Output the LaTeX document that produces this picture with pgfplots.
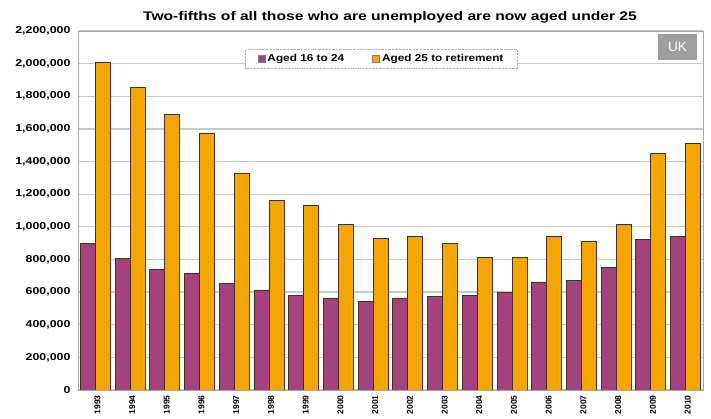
\documentclass[border=0pt]{standalone}
\usepackage{pgfplots}
\pgfplotsset{compat=1.18}
\usepackage{fontspec}
\setmainfont{Liberation Sans}
\definecolor{purp}{HTML}{A3427C}
\definecolor{orng}{HTML}{F5A500}
\definecolor{edge}{HTML}{4A3020}
\definecolor{gridc}{HTML}{C8C8C8}
\newcommand{\sx}[2]{\scalebox{#1}[1]{#2}}
\begin{document}
\begin{tikzpicture}[x=1pt,y=1pt]
\path[use as bounding box] (0,0) rectangle (711,419);
\begin{axis}[
  at={(78pt,29pt)}, anchor=south west,
  scale only axis, width=625pt, height=359pt,
  ybar=0pt, bar width=15pt,
  xmin=-0.5, xmax=17.5,
  ymin=0, ymax=2200000,
  xtick=data,
  xticklabels={1993,1994,1995,1996,1997,1998,1999,2000,2001,2002,2003,2004,2005,2006,2007,2008,2009,2010},
  x tick label style={rotate=90, anchor=east, yshift=-2pt, inner sep=1pt, font=\bfseries\fontsize{8.5}{9}\selectfont},
  major x tick style={draw=none},
  ytick={0,200000,...,2200000},
  scaled y ticks=false,
  /pgf/number format/fixed,
  /pgf/number format/1000 sep={,},
  /pgf/number format/assume math mode=true,
  yticklabel={\sx{1.24}{\pgfmathprintnumber{\tick}}},
  y tick label style={font=\bfseries\fontsize{10}{11}\selectfont, xshift=-4pt},
  major y tick style={draw=none},
  ymajorgrids, grid style={gridc, line width=1.2pt},
  axis line style={draw=gray!70, line width=0.9pt},
  legend columns=2,
  legend style={at={(0.4856,0.922)}, anchor=center, draw=gray!60, densely dotted,
    font=\bfseries\fontsize{10}{11}\selectfont, inner xsep=12pt, inner ysep=3pt,
    /tikz/every even column/.append style={column sep=26pt}},
  legend image code/.code={\draw[#1, solid, draw=gray] (0pt,-3.5pt) rectangle (7pt,3.5pt);},
]
\addplot[fill=purp, draw=edge, line width=0.9pt] coordinates {
(0,895000) (1,805000) (2,740000) (3,715000) (4,650000) (5,613000) (6,582000) (7,564000) (8,545000) (9,560000) (10,574000) (11,580000) (12,600000) (13,662000) (14,674000) (15,748000) (16,920000) (17,938000)};
\addplot[fill=orng, draw=edge, line width=0.9pt] coordinates {
(0,2010000) (1,1855000) (2,1690000) (3,1570000) (4,1330000) (5,1160000) (6,1128000) (7,1015000) (8,926000) (9,942000) (10,895000) (11,815000) (12,815000) (13,940000) (14,912000) (15,1017000) (16,1450000) (17,1510000)};
\legend{\sx{1.18}{Aged 16 to 24}, \sx{1.18}{Aged 25 to retirement}}
\end{axis}
\node[font=\bfseries\fontsize{12.5}{14}\selectfont] at (390,402) {\sx{1.25}{Two-fifths of all those who are unemployed are now aged under 25}};
\node[fill=gray!75, text=white, font=\fontsize{13.5}{14}\selectfont, minimum width=39pt, minimum height=26pt, inner sep=0pt] at (677.5,372) {UK};
\end{tikzpicture}
\end{document}
